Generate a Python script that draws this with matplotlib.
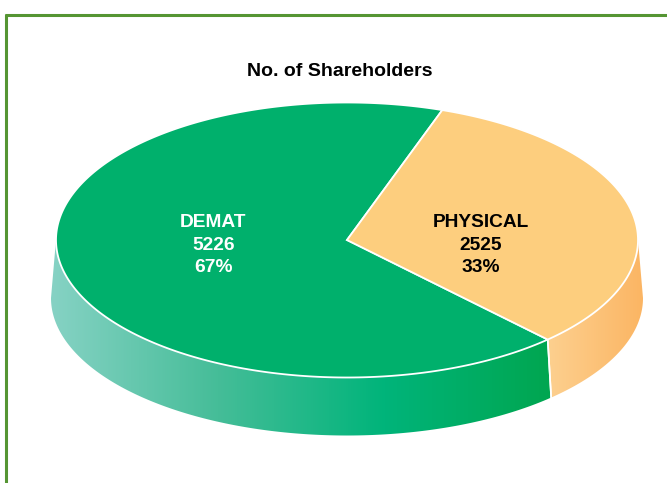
import matplotlib.pyplot as plt
import numpy as np
from matplotlib.patches import Polygon
from matplotlib.colors import LinearSegmentedColormap

labels = ["DEMAT", "PHYSICAL"]
values = [5226, 2525]
top_colors = ["#00b06c", "#fdce7e"]
text_colors = ["white", "black"]
side_colors = [["#86d2c4", "#45bd98", "#00b47a", "#00a650"], ["#fdd08f", "#fbb563"]]
title = "No. of Shareholders"

plt.rcParams['font.family'] = ['Liberation Sans', 'DejaVu Sans']

fig = plt.figure(figsize=(6.67, 4.83), dpi=100)
ax = fig.add_axes([0, 0, 1, 1])
ax.set_xlim(0, 667)
ax.set_ylim(483, 0)
ax.axis('off')

# ellipse geometry (pixels)
cx, cy, a, b = 347, 240, 291, 137.5
depth, a_bot = 58, 296


def pt(t, aa, yoff=0):
    t = np.radians(t)
    return np.column_stack([cx + aa * np.cos(t), cy + yoff - b * np.sin(t)])


total = sum(values)
sweeps = [v / total * 360 for v in values]
# physical slice centred a little above the horizontal
p_start = 12.25 - sweeps[1] / 2
spans = [(p_start + sweeps[1], p_start + 360), (p_start, p_start + sweeps[1])]

# side walls (front half only)
for (t1, t2), cols in zip(spans, side_colors):
    for lo, hi in [(-180, 0), (180, 360)]:
        s, e = max(t1, lo), min(t2, hi)
        if e <= s:
            continue
        ts = np.linspace(s, e, 200)
        top = pt(ts, a)
        bot = pt(ts[::-1], a_bot, depth)
        poly = Polygon(np.vstack([top, bot]), closed=True, facecolor='none',
                       edgecolor='none')
        ax.add_patch(poly)
        xs = np.concatenate([top[:, 0], bot[:, 0]])
        cmap = LinearSegmentedColormap.from_list('side', cols)
        grad = np.linspace(0, 1, 256).reshape(1, -1)
        im = ax.imshow(grad, cmap=cmap, aspect='auto',
                       extent=(xs.min(), xs.max(), cy + depth + b + 2, cy - 5))
        im.set_clip_path(poly)
        # white seam at slice boundary
        for tt in (s, e):
            if tt not in (lo, hi):
                p0 = pt([tt], a)[0]
                p1 = pt([tt], a_bot, depth)[0]
                ax.plot([p0[0], p1[0]], [p0[1], p1[1]], color='white', lw=1.2)

ax.set_xlim(0, 667)
ax.set_ylim(483, 0)

# top faces
for (t1, t2), col in zip(spans, top_colors):
    ts = np.linspace(t1, t2, 300)
    verts = np.vstack([[cx, cy], pt(ts, a)])
    ax.add_patch(Polygon(verts, closed=True, facecolor=col, edgecolor='white',
                         lw=1.3, zorder=3))

# labels
for (t1, t2), lab, v, tc in zip(spans, labels, values, text_colors):
    mid = np.radians((t1 + t2) / 2)
    x = cx + 0.47 * a * np.cos(mid)
    ax.text(x, cy + 5, f"{lab}\n{v}\n{v / total:.0%}", ha='center', va='center',
            color=tc, fontsize=13.8, fontweight='bold', linespacing=1.4,
            zorder=5)

ax.text(340, 72, title, ha='center', va='center', fontsize=14,
        fontweight='bold', color='black')

# green frame
ax.plot([5, 667], [14.5, 14.5], color='#559533', lw=2.2, solid_capstyle='butt')
ax.plot([6, 6], [14, 483], color='#559533', lw=2.2, solid_capstyle='butt')

fig.savefig('out.png', dpi=100)
